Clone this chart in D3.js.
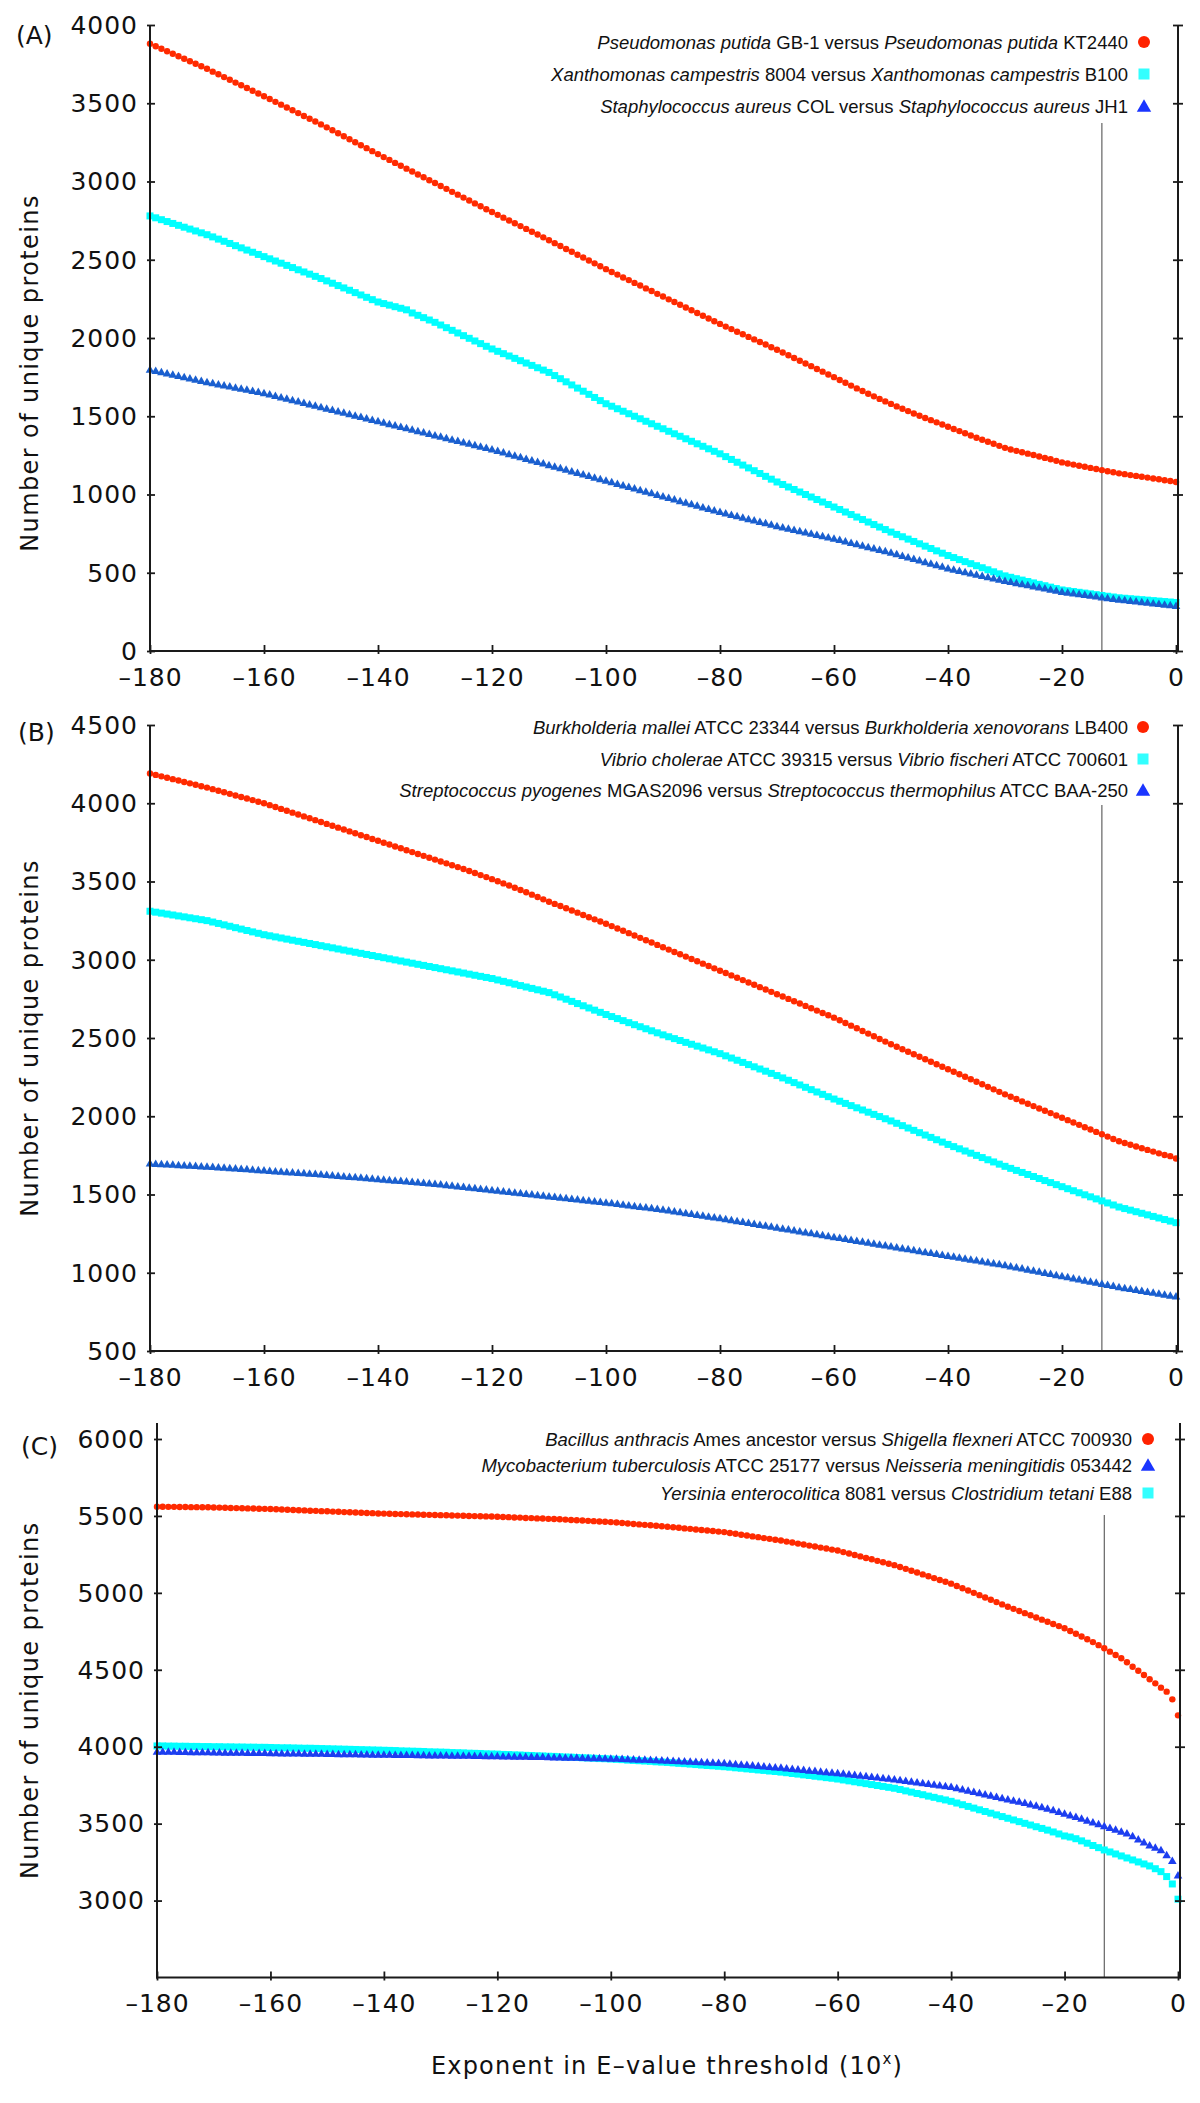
<!DOCTYPE html>
<html><head><meta charset="utf-8">
<script src="https://cdn.jsdelivr.net/npm/d3@7"></script>
<style>body{margin:0;background:#fff}</style>
</head><body><svg id="c" width="1200" height="2103"></svg>
<script>
// ---------- DATA ----------
const exponents = d3.range(-180, 1);            // x categories: -180 .. 0
const xTickValues = [-180,-160,-140,-120,-100,-80,-60,-40,-20,0];
const yTicksA = [0,500,1000,1500,2000,2500,3000,3500,4000];
const yTicksB = [500,1000,1500,2000,2500,3000,3500,4000,4500];
const yTicksC = [3000,3500,4000,4500,5000,5500,6000];
const thresholdExponent = -13;

const aRed = [3880,3864,3848,3832,3816,3800,3784,3768,3752,3736,3720,
3702,3685,3667,3650,3632,3615,3597,3580,3562,3545,
3527,3509,3491,3473,3455,3437,3419,3401,3383,3365,
3346,3327,3308,3289,3270,3251,3232,3213,3194,3175,
3156,3138,3119,3101,3082,3064,3045,3027,3008,2990,
2971,2953,2934,2916,2897,2879,2860,2842,2823,2805,
2787,2769,2751,2733,2715,2697,2679,2661,2643,2625,
2606,2588,2569,2551,2532,2514,2495,2477,2458,2440,
2422,2405,2387,2370,2352,2335,2317,2300,2282,2265,
2247,2230,2212,2195,2177,2160,2142,2125,2107,2090,
2073,2057,2040,2024,2007,1991,1974,1958,1941,1925,
1907,1890,1872,1855,1837,1820,1802,1785,1767,1750,
1732,1714,1696,1678,1661,1644,1627,1611,1595,1579,
1563,1548,1533,1518,1503,1489,1475,1461,1447,1433,
1419,1405,1391,1377,1363,1350,1337,1324,1311,1298,
1288,1279,1270,1261,1252,1243,1234,1225,1215,1205,
1198,1191,1184,1177,1170,1163,1156,1149,1142,1135,
1130,1124,1119,1113,1108,1102,1097,1091,1086,1080];

const aCyan = [2780,2768,2756,2744,2732,2720,2708,2696,2684,2672,2660,
2646,2632,2618,2604,2590,2576,2562,2548,2534,2520,
2506,2492,2478,2464,2450,2436,2422,2408,2394,2380,
2365,2350,2335,2320,2305,2290,2275,2260,2245,2230,
2220,2210,2200,2190,2180,2160,2145,2130,2115,2100,
2083,2066,2049,2032,2015,1998,1981,1964,1947,1930,
1915,1900,1885,1870,1855,1840,1825,1810,1795,1780,
1760,1740,1720,1700,1680,1660,1640,1620,1600,1580,
1564,1548,1532,1516,1500,1484,1468,1452,1436,1420,
1404,1388,1372,1356,1340,1324,1308,1292,1276,1260,
1242,1224,1206,1188,1170,1152,1134,1116,1098,1080,
1064,1048,1032,1016,1000,984,968,952,936,920,
904,888,872,856,840,824,808,792,776,760,
745,730,715,700,685,670,655,640,625,610,
597,584,571,558,545,532,519,506,493,480,
471,462,453,444,435,426,417,408,399,390,
385,380,375,370,365,360,355,350,345,340,
337,334,331,328,325,322,319,316,313,310];

const aBlue = [1800,1792,1784,1776,1768,1760,1752,1744,1736,1728,1720,
1713,1706,1699,1692,1685,1678,1671,1664,1657,1650,
1641,1632,1623,1614,1605,1596,1587,1578,1569,1560,
1551,1542,1533,1524,1515,1506,1497,1488,1479,1470,
1461,1452,1443,1434,1425,1416,1407,1398,1389,1380,
1371,1362,1353,1344,1335,1326,1317,1308,1299,1290,
1280,1270,1260,1250,1240,1230,1220,1210,1200,1190,
1180,1170,1160,1150,1140,1130,1120,1110,1100,1090,
1080,1070,1060,1050,1040,1030,1020,1010,1000,990,
980,970,960,950,940,930,920,910,900,890,
881,872,863,854,845,836,827,818,809,800,
792,784,776,768,760,752,744,736,728,720,
711,702,693,684,675,666,657,648,639,630,
620,610,600,590,580,570,560,550,540,530,
522,514,506,498,490,482,474,466,458,450,
443,436,429,422,415,408,401,394,387,380,
375,370,365,360,355,350,345,340,335,330,
326,322,318,314,310,306,302,298,294,290];

const bRed = [4190,4181,4172,4163,4154,4145,4136,4127,4118,4109,4100,
4090,4080,4070,4060,4050,4040,4030,4020,4010,4000,
3988,3976,3964,3952,3940,3928,3916,3904,3892,3880,
3868,3856,3844,3832,3820,3808,3796,3784,3772,3760,
3748,3736,3724,3712,3700,3688,3676,3664,3652,3640,
3628,3616,3604,3592,3580,3567,3554,3541,3528,3515,
3502,3488,3474,3460,3446,3431,3416,3401,3386,3371,
3357,3343,3329,3315,3301,3286,3272,3258,3244,3230,
3215,3200,3185,3170,3155,3140,3125,3110,3095,3080,
3065,3050,3035,3020,3005,2990,2975,2960,2945,2930,
2915,2900,2885,2870,2855,2840,2825,2810,2795,2780,
2765,2750,2735,2720,2705,2690,2675,2660,2645,2630,
2613,2596,2579,2562,2545,2528,2511,2494,2477,2460,
2444,2428,2412,2396,2380,2364,2348,2332,2316,2300,
2284,2268,2252,2236,2220,2204,2188,2172,2156,2140,
2125,2110,2095,2080,2065,2050,2035,2020,2005,1990,
1975,1960,1945,1930,1915,1900,1885,1870,1855,1840,
1829,1818,1807,1796,1785,1774,1763,1752,1745,1730];

const bCyan = [3310,3304,3298,3292,3286,3280,3274,3268,3262,3256,3250,
3241,3232,3223,3214,3205,3196,3187,3178,3169,3160,
3153,3146,3139,3132,3125,3118,3111,3104,3097,3090,
3083,3076,3069,3062,3055,3048,3041,3034,3027,3020,
3013,3006,2999,2992,2985,2978,2971,2964,2957,2950,
2943,2936,2929,2922,2915,2908,2901,2894,2887,2880,
2871,2862,2853,2844,2835,2826,2817,2808,2799,2790,
2776,2762,2748,2734,2720,2706,2692,2678,2664,2650,
2637,2624,2611,2598,2585,2572,2559,2546,2533,2520,
2508,2496,2484,2472,2460,2448,2436,2424,2412,2400,
2386,2372,2358,2344,2330,2316,2302,2288,2274,2260,
2245,2230,2215,2200,2185,2170,2155,2140,2125,2110,
2096,2082,2068,2054,2040,2026,2012,1998,1984,1970,
1955,1940,1925,1910,1895,1880,1865,1850,1835,1820,
1806,1792,1778,1764,1750,1736,1722,1708,1694,1680,
1667,1654,1641,1628,1615,1602,1589,1576,1563,1550,
1537,1524,1511,1498,1485,1472,1459,1446,1433,1420,
1410,1400,1390,1380,1370,1360,1350,1340,1330,1320];

const bBlue = [1700,1698,1696,1694,1692,1690,1688,1686,1684,1682,1680,
1678,1675,1673,1670,1668,1665,1663,1660,1658,1655,
1653,1650,1648,1645,1643,1640,1638,1635,1633,1630,
1627,1624,1621,1618,1615,1612,1609,1606,1603,1600,
1597,1594,1591,1588,1585,1582,1579,1576,1573,1570,
1566,1562,1558,1554,1550,1546,1542,1538,1534,1530,
1526,1522,1518,1514,1510,1506,1502,1498,1494,1490,
1486,1482,1478,1474,1470,1466,1462,1458,1454,1450,
1446,1441,1437,1432,1428,1423,1419,1414,1410,1405,
1400,1394,1389,1383,1378,1372,1367,1361,1356,1350,
1344,1338,1332,1326,1320,1314,1308,1302,1296,1290,
1284,1278,1272,1266,1260,1254,1248,1242,1236,1230,
1224,1218,1212,1206,1200,1194,1188,1182,1176,1170,
1164,1158,1152,1146,1140,1134,1128,1122,1116,1110,
1104,1098,1092,1086,1080,1074,1068,1062,1056,1050,
1043,1036,1029,1022,1015,1008,1001,994,987,980,
973,966,959,952,945,938,931,924,917,910,
904,898,892,886,880,874,868,862,856,850];

const cRed = [5560,5560,5559,5559,5558,5558,5557,5557,5556,5556,5555,
5554,5553,5552,5551,5550,5549,5548,5547,5546,5545,
5543,5542,5540,5539,5537,5536,5534,5533,5531,5530,
5528,5527,5525,5524,5522,5521,5519,5518,5516,5515,
5514,5513,5512,5511,5510,5509,5508,5507,5506,5505,
5504,5503,5502,5501,5500,5499,5498,5497,5496,5495,
5493,5492,5490,5489,5487,5486,5484,5483,5481,5480,
5478,5476,5474,5472,5470,5468,5466,5464,5462,5460,
5457,5454,5451,5448,5445,5442,5439,5436,5433,5430,
5426,5423,5419,5416,5412,5409,5405,5402,5398,5395,
5389,5384,5378,5373,5367,5362,5356,5351,5345,5340,
5333,5327,5320,5314,5307,5301,5294,5288,5281,5275,
5265,5256,5246,5237,5227,5218,5208,5199,5189,5180,
5168,5156,5144,5132,5120,5108,5096,5084,5072,5060,
5045,5030,5015,5000,4985,4970,4955,4940,4925,4910,
4896,4882,4868,4854,4840,4826,4812,4798,4784,4770,
4752,4734,4716,4698,4680,4660,4640,4618,4596,4575,
4549,4520,4494,4466,4438,4412,4384,4358,4308,4204];

const cBlue = [3970,3970,3969,3969,3968,3968,3967,3967,3966,3966,3965,
3965,3964,3964,3963,3963,3962,3962,3961,3961,3960,
3960,3959,3959,3958,3958,3957,3957,3956,3956,3955,
3955,3954,3954,3953,3953,3952,3952,3951,3951,3950,
3950,3949,3949,3948,3948,3947,3947,3946,3946,3945,
3945,3944,3944,3943,3943,3942,3942,3941,3941,3940,
3939,3939,3938,3937,3937,3936,3935,3935,3934,3933,
3932,3931,3931,3930,3929,3928,3927,3927,3926,3925,
3924,3922,3921,3920,3918,3917,3916,3914,3913,3912,
3910,3908,3907,3905,3903,3902,3900,3898,3897,3895,
3892,3889,3886,3883,3880,3877,3874,3871,3868,3865,
3861,3858,3854,3851,3847,3844,3840,3837,3833,3830,
3826,3822,3818,3814,3810,3806,3802,3798,3794,3790,
3785,3780,3775,3770,3765,3760,3755,3750,3745,3740,
3732,3724,3716,3708,3700,3692,3684,3676,3668,3660,
3652,3644,3636,3627,3618,3609,3599,3589,3578,3567,
3556,3545,3534,3522,3510,3498,3486,3474,3462,3450,
3438,3420,3400,3380,3361,3345,3329,3297,3260,3165];

const cCyan = [4005,4005,4004,4004,4003,4003,4002,4002,4001,4001,4000,
4000,3999,3999,3998,3998,3997,3997,3996,3996,3995,
3994,3993,3993,3992,3991,3990,3990,3989,3988,3987,
3986,3985,3984,3983,3982,3981,3980,3979,3978,3977,
3976,3975,3973,3972,3971,3970,3969,3967,3966,3965,
3964,3962,3961,3960,3958,3957,3956,3954,3953,3952,
3950,3949,3947,3946,3944,3943,3941,3940,3938,3937,
3935,3933,3932,3930,3928,3927,3925,3923,3922,3920,
3918,3916,3913,3911,3909,3907,3905,3902,3900,3898,
3895,3892,3890,3887,3884,3881,3878,3876,3873,3870,
3867,3863,3860,3856,3853,3849,3846,3842,3839,3835,
3831,3826,3822,3817,3813,3808,3804,3799,3795,3790,
3784,3778,3772,3766,3760,3754,3748,3742,3736,3730,
3722,3713,3705,3696,3688,3679,3671,3662,3654,3645,
3634,3623,3612,3601,3590,3579,3568,3557,3546,3535,
3524,3513,3502,3491,3480,3469,3458,3446,3433,3420,
3413,3402,3388,3373,3358,3344,3329,3316,3303,3290,
3277,3264,3251,3238,3225,3207,3188,3156,3108,3009];

const legendA = [
  [["Pseudomonas putida",1],[" GB-1 versus ",0],["Pseudomonas putida",1],[" KT2440",0]],
  [["Xanthomonas campestris",1],[" 8004 versus ",0],["Xanthomonas campestris",1],[" B100",0]],
  [["Staphylococcus aureus",1],[" COL versus ",0],["Staphylococcus aureus",1],[" JH1",0]]
];
const legendB = [
  [["Burkholderia mallei",1],[" ATCC 23344 versus ",0],["Burkholderia xenovorans",1],[" LB400",0]],
  [["Vibrio cholerae",1],[" ATCC 39315 versus ",0],["Vibrio fischeri",1],[" ATCC 700601",0]],
  [["Streptococcus pyogenes",1],[" MGAS2096 versus ",0],["Streptococcus thermophilus",1],[" ATCC BAA-250",0]]
];
const legendC = [
  [["Bacillus anthracis",1],[" Ames ancestor versus ",0],["Shigella flexneri",1],[" ATCC 700930",0]],
  [["Mycobacterium tuberculosis",1],[" ATCC 25177 versus ",0],["Neisseria meningitidis",1],[" 053442",0]],
  [["Yersinia enterocolitica",1],[" 8081 versus ",0],["Clostridium tetani",1],[" E88",0]]
];

// ---------- STYLE / LAYOUT ----------
const RED = "#ff2a00", CYAN = "#00ffff", BLUE_AB = "#1a5fcf", BLUE_C = "#1c3ef0";
const panels = [
  {label:"(A)", yTicks:yTicksA, dom:[0,4000], x0:150, x1:1176, yTop:25, yBot:651, axisTop:25, vTop:123,
   labX:16, labY:44, legX:1128, mkX:1144, legY:[42,74,106], legFont:18.5, legend:legendA, ylabOff:35,
   legShapes:["circle","square","triangle"],
   series:[{v:aRed,s:"circle",c:RED},{v:aCyan,s:"square",c:CYAN},{v:aBlue,s:"triangle",c:BLUE_AB}]},
  {label:"(B)", yTicks:yTicksB, dom:[500,4500], x0:150, x1:1176, yTop:725, yBot:1351, axisTop:725, vTop:805,
   labX:18, labY:741, legX:1128, mkX:1143, legY:[727,759,790], legFont:18.5, legend:legendB, ylabOff:0,
   legShapes:["circle","square","triangle"],
   series:[{v:bRed,s:"circle",c:RED},{v:bCyan,s:"square",c:CYAN},{v:bBlue,s:"triangle",c:BLUE_AB}]},
  {label:"(C)", yTicks:yTicksC, dom:[2500,6000], x0:157, x1:1178, yTop:1439, yBot:1977.5, axisTop:1423, vTop:1515,
   labX:21, labY:1455, legX:1132, mkX:1148, legY:[1439,1465,1493], legFont:18.5, legend:legendC, ylabOff:0,
   legShapes:["circle","triangle","square"],
   series:[{v:cRed,s:"circle",c:RED},{v:cCyan,s:"square",c:CYAN},{v:cBlue,s:"triangle",c:BLUE_C}]}
];

const svg = d3.select("#c");
svg.append("rect").attr("width",1200).attr("height",2103).attr("fill","#fff");
const FONT = "'DejaVu Sans', Verdana, sans-serif";
const AX = "#1a1a1a";

function marker(g, shape, x, y, color, sz){
  if(shape==="circle"){
    g.append("circle").attr("cx",x).attr("cy",y).attr("r",sz/2).attr("fill",color);
  } else if(shape==="square"){
    g.append("rect").attr("x",x-sz/2).attr("y",y-sz/2).attr("width",sz).attr("height",sz).attr("fill",color);
  } else {
    const w=sz*1.15, h=sz;
    g.append("path").attr("d",`M${x},${y-h*0.55}L${x+w/2},${y+h*0.45}L${x-w/2},${y+h*0.45}Z`).attr("fill",color);
  }
}

panels.forEach(p=>{
  const x = d3.scaleLinear().domain([-180,0]).range([p.x0,p.x1]);
  const y = d3.scaleLinear().domain(p.dom).range([p.yBot, p.yTop]);
  const g = svg.append("g");

  // threshold line
  g.append("line").attr("x1",x(thresholdExponent)).attr("x2",x(thresholdExponent))
    .attr("y1",p.vTop).attr("y2",p.yBot).attr("stroke","#444").attr("stroke-width",1);

  // data
  p.series.forEach(s=>{
    const sg = g.append("g");
    s.v.forEach((val,i)=>{
      const cx = x(exponents[i]), cy = y(val);
      if(s.s==="circle") marker(sg,"circle",cx,cy,s.c,6.4);
      else if(s.s==="square") marker(sg,"square",cx,cy,s.c,7);
      else marker(sg,"triangle",cx,cy,s.c,7.5);
    });
  });

  // left axis
  const ya = g.append("g").attr("transform",`translate(${p.x0},0)`)
    .call(d3.axisLeft(y).tickValues(p.yTicks).tickFormat(d3.format("d")).tickSizeOuter(0).tickSizeInner(0).tickPadding(12));
  ya.select(".domain").remove();
  ya.selectAll(".tick line").attr("x1",-3).attr("x2",5).attr("stroke",AX).attr("stroke-width",1.8);
  ya.attr("font-family",FONT).attr("font-size",25);
  ya.selectAll(".tick text").attr("fill","#111").attr("letter-spacing","1px").attr("dy","0.33em");
  g.append("line").attr("x1",p.x0).attr("x2",p.x0).attr("y1",p.axisTop).attr("y2",p.yBot+1)
    .attr("stroke",AX).attr("stroke-width",2);

  // right axis
  const ra = g.append("g").attr("transform",`translate(${p.x1+2},0)`)
    .call(d3.axisRight(y).tickValues(p.yTicks).tickSizeOuter(0).tickSizeInner(0).tickFormat(""));
  ra.select(".domain").remove();
  ra.selectAll(".tick line").attr("x1",-5).attr("x2",5).attr("stroke",AX).attr("stroke-width",1.8);
  g.append("line").attr("x1",p.x1+2).attr("x2",p.x1+2).attr("y1",p.axisTop).attr("y2",p.yBot+1)
    .attr("stroke",AX).attr("stroke-width",2);

  // bottom axis
  const xa = g.append("g").attr("transform",`translate(0,${p.yBot})`)
    .call(d3.axisBottom(x).tickValues(xTickValues).tickSizeOuter(0).tickSizeInner(0).tickPadding(17)
      .tickFormat(d=> d<0 ? "\u2013"+Math.abs(d) : String(d)));
  xa.select(".domain").remove();
  xa.selectAll(".tick line").attr("y1",-6).attr("y2",3).attr("stroke",AX).attr("stroke-width",1.8);
  xa.attr("font-family",FONT).attr("font-size",25);
  xa.selectAll(".tick text").attr("fill","#111").attr("letter-spacing","1px");
  g.append("line").attr("x1",p.x0-1).attr("x2",p.x1+3).attr("y1",p.yBot).attr("y2",p.yBot)
    .attr("stroke",AX).attr("stroke-width",2);

  // panel label
  g.append("text").attr("x",p.labX).attr("y",p.labY).attr("font-family",FONT).attr("font-size",25)
    .attr("fill","#111").text(p.label);

  // y axis title
  g.append("text").attr("transform",`translate(30,${(p.axisTop+p.yBot)/2+p.ylabOff}) rotate(-90)`)
    .attr("text-anchor","middle").attr("dominant-baseline","central")
    .attr("font-family",FONT).attr("font-size",24).attr("letter-spacing","1.4px").attr("fill","#111")
    .text("Number of unique proteins");

  // legend
  const legColors = {circle:"#ff2200", square:"#33ffff", triangle:"#1a35ff"};
  p.legend.forEach((row,i)=>{
    const t = g.append("text").attr("x",p.legX).attr("y",p.legY[i]+p.legFont*0.36)
      .attr("text-anchor","end").attr("font-family","'Liberation Sans', Arial, Helvetica, sans-serif")
      .attr("font-size",p.legFont).attr("fill","#111");
    row.forEach(([s,it])=>{
      t.append("tspan").attr("font-style",it?"italic":"normal").text(s);
    });
    const sh = p.legShapes[i];
    marker(g, sh, p.mkX, p.legY[i], legColors[sh], sh==="circle"?12:(sh==="square"?11:12.5));
  });
});

// x axis title
const title = svg.append("text").attr("x",667).attr("y",2074).attr("text-anchor","middle")
  .attr("font-family",FONT).attr("font-size",24).attr("letter-spacing","1.2px").attr("fill","#111");
title.append("tspan").text("Exponent in E\u2013value threshold (10");
title.append("tspan").attr("font-size",15).attr("dy",-10).text("x");
title.append("tspan").attr("dy",10).text(")");
</script></body></html>
